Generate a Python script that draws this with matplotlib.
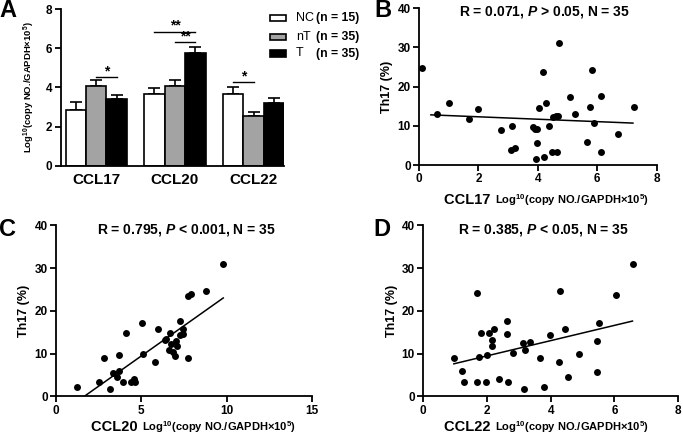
import numpy as np
import matplotlib
matplotlib.use("Agg")
import matplotlib.pyplot as plt
from matplotlib.patches import Rectangle

plt.rcParams['font.family'] = ['Liberation Sans', 'DejaVu Sans']
plt.rcParams['font.weight'] = 'bold'
plt.rcParams['mathtext.fontset'] = 'custom'
plt.rcParams['mathtext.rm'] = 'Liberation Sans:bold'
plt.rcParams['mathtext.bf'] = 'Liberation Sans:bold'
plt.rcParams['mathtext.it'] = 'Liberation Sans:italic:bold'

# ---- panel A data ----
groups = ['CCL17', 'CCL20', 'CCL22']
series_names = ['NC', 'nT', 'T']
series_n = ['(n = 15)', '(n = 35)', '(n = 35)']
series_colors = ['white', '#a3a3a3', 'black']
nc_mean = [2.85, 3.65, 3.67]
nc_err = [0.39, 0.34, 0.34]
nt_mean = [4.08, 4.08, 2.54]
nt_err = [0.29, 0.31, 0.22]
t_mean = [3.40, 5.78, 3.19]
t_err = [0.22, 0.31, 0.26]
# (group, series a, series b, height, label)
sig_marks = [(0, 1, 2, 4.52, '*'), (1, 0, 2, 6.84, '**'), (1, 1, 2, 6.31, '**'), (2, 0, 1, 4.27, '*')]

# ---- panel B data (CCL17 vs Th17) ----
ccl17_x = [0.11, 0.61, 1.01, 1.69, 2.0, 2.77, 3.12, 3.09, 3.24, 3.82, 3.90, 3.98,
           3.93, 3.98, 4.04, 4.18, 4.29, 4.22, 4.37, 4.49, 4.64, 4.52, 4.60, 4.68,
           4.71, 5.07, 5.25, 5.66, 5.75, 5.82, 5.89, 6.14, 6.13, 6.69, 7.24]
ccl17_y = [24.8, 12.9, 15.7, 11.7, 14.3, 8.9, 9.9, 3.9, 4.4, 9.8, 9.1, 9.3,
           1.6, 5.5, 14.6, 23.7, 15.9, 2.0, 10.0, 3.2, 3.3, 12.3, 12.5, 12.6,
           31.1, 17.3, 13.0, 5.9, 14.9, 24.3, 10.8, 17.6, 3.2, 7.9, 14.9]
fit17_x = [0.4, 7.2]
fit17_y = [12.8, 10.7]

# ---- panel C data (CCL20 vs Th17) ----
ccl20_x = [1.21, 2.54, 2.83, 3.16, 3.32, 3.67, 3.55, 3.69, 4.08, 3.95, 4.38, 4.57,
           4.63, 5.02, 5.12, 5.82, 5.96, 6.37, 6.68, 6.62, 6.72, 6.86, 6.95, 7.01,
           7.07, 7.25, 7.29, 7.42, 7.44, 7.73, 7.71, 7.89, 8.77, 9.80, 6.45]
ccl20_y = [2.1, 3.3, 9.0, 1.7, 5.5, 9.7, 4.5, 5.9, 14.9, 3.4, 3.4, 4.1,
           3.4, 17.2, 10.0, 8.0, 15.8, 13.1, 14.9, 10.9, 12.3, 10.4, 9.4, 12.9,
           11.7, 14.4, 17.5, 14.5, 15.8, 9.0, 23.5, 24.0, 24.6, 31.0, 13.4]
fit20_x = [1.66, 9.8]
fit20_y = [0.0, 23.0]

# ---- panel D data (CCL22 vs Th17) ----
ccl22_x = [0.96, 1.20, 1.27, 1.70, 1.69, 1.82, 1.75, 1.97, 2.01, 2.07, 2.15, 2.15,
           2.23, 2.37, 2.64, 2.64, 2.66, 2.81, 3.12, 3.19, 3.15, 3.36, 3.65, 3.79,
           3.98, 4.26, 4.29, 4.45, 4.55, 4.88, 5.45, 5.45, 5.51, 6.06, 6.60]
ccl22_y = [9.0, 6.0, 3.3, 24.2, 3.3, 14.9, 9.2, 3.3, 9.7, 14.9, 13.1, 11.7,
           15.8, 4.0, 17.5, 14.5, 3.4, 10.1, 12.4, 10.9, 1.7, 12.6, 9.0, 2.1,
           14.3, 8.0, 24.6, 15.8, 4.5, 10.0, 12.9, 5.6, 17.2, 23.6, 31.0]
fit22_x = [0.96, 6.57]
fit22_y = [7.6, 17.6]

unit_label = r'Log$^{10}$(copy NO./GAPDH×10$^{5}$)'

W, H = 683, 434
fig = plt.figure(figsize=(W / 100, H / 100), dpi=100)


def px_axes(l, t, r, b):
    return fig.add_axes([l / W, 1 - b / H, (r - l) / W, (b - t) / H])


def style(ax):
    for s in ['top', 'right']:
        ax.spines[s].set_visible(False)
    for s in ['left', 'bottom']:
        ax.spines[s].set_linewidth(1.3)
    ax.tick_params(direction='out', length=4, width=1.3, labelsize=8.5, pad=2)
    for lab in ax.get_xticklabels() + ax.get_yticklabels():
        lab.set_fontweight('bold')


# ---------------- A ----------------
axA = px_axes(60.7, 9.3, 284.3, 165.7)
w = 0.26
xg = np.arange(len(groups))
means = [nc_mean, nt_mean, t_mean]
errs = [nc_err, nt_err, t_err]
for i in range(3):
    pos = xg + (i - 1) * w
    axA.bar(pos, means[i], w, color=series_colors[i], edgecolor='black', linewidth=1.2, zorder=2)
    axA.errorbar(pos, means[i], yerr=[np.zeros(3), errs[i]], fmt='none', ecolor='black',
                 elinewidth=1.2, capsize=4, capthick=1.2, zorder=1)
for g, a, b, h, lab in sig_marks:
    x1 = g + (a - 1) * w
    x2 = g + (b - 1) * w
    axA.plot([x1, x2], [h, h], color='black', lw=1)
    axA.text((x1 + x2) / 2, h - 0.05, lab, ha='center', va='bottom', fontsize=10, fontweight='bold')
axA.set_xlim(-0.451, 2 + 1.5 * w)
axA.set_ylim(0, 8)
axA.set_yticks([0, 2, 4, 6, 8])
axA.set_xticks(xg)
axA.set_xticklabels(groups)
style(axA)
axA.tick_params(axis='x', length=0, labelsize=11, pad=5)
axA.set_ylabel(unit_label, fontsize=6.8, fontweight='bold', labelpad=6)

# legend drawn by hand
for i, yy in enumerate([18.3, 36.7, 53.5]):
    fig.patches.append(Rectangle((270 / W, 1 - (yy + 3) / H), 16 / W, 6 / H,
                                 transform=fig.transFigure, facecolor=series_colors[i],
                                 edgecolor='black', linewidth=1.2))
    fig.text(296 / W, 1 - yy / H, series_names[i], fontsize=9, fontweight='normal',
             ha='left', va='center')
    fig.text(316.5 / W, 1 - yy / H, series_n[i], fontsize=8.8, fontweight='bold',
             ha='left', va='center')


# ---------------- scatter panels ----------------
def scatter_panel(box, x, y, fx, fy, xmax, xticks, title, title_pos, name, split_px, label_y):
    ax = px_axes(*box)
    ax.scatter(x, y, s=25, color='black', zorder=3, clip_on=False, linewidths=0)
    ax.plot(fx, fy, color='black', lw=1.1)
    ax.set_xlim(0, xmax)
    ax.set_ylim(0, 40)
    ax.set_xticks(xticks)
    ax.set_yticks([0, 10, 20, 30, 40])
    style(ax)
    ax.set_ylabel('Th17 (%)', fontsize=9, fontweight='bold', labelpad=3)
    fig.text(title_pos[0] / W, 1 - title_pos[1] / H, title, ha='center', va='center',
             fontsize=10, fontweight='bold')
    fig.text(split_px / W, 1 - label_y / H, name + ' ', fontsize=10.5, fontweight='bold',
             ha='right', va='center')
    fig.text(split_px / W, 1 - (label_y + 0.5) / H, unit_label, fontsize=8,
             fontweight='bold', ha='left', va='center')
    return ax


scatter_panel((419, 8.3, 656.7, 165), ccl17_x, ccl17_y, fit17_x, fit17_y, 8, [0, 2, 4, 6, 8],
              r'R = 0.071, $P$ > 0.05, N = 35', (544, 12.5), 'CCL17', 495, 200)
scatter_panel((56, 225.3, 312, 396.3), ccl20_x, ccl20_y, fit20_x, fit20_y, 15, [0, 5, 10, 15],
              r'R = 0.795, $P$ < 0.001, N = 35', (186.7, 230.5), 'CCL20', 142, 427)
scatter_panel((423.3, 225.3, 678, 396.3), ccl22_x, ccl22_y, fit22_x, fit22_y, 8, [0, 2, 4, 6, 8],
              r'R = 0.385, $P$ < 0.05, N = 35', (543, 230.5), 'CCL22', 495, 427)

# panel letters
for lab, xp, yp in [('A', 8, 10.5), ('B', 383, 10.5), ('C', 7.5, 229.5), ('D', 382, 229.5)]:
    fig.text(xp / W, 1 - yp / H, lab, fontsize=17, fontweight='bold', ha='center', va='center')

fig.savefig('out.png', dpi=100)
